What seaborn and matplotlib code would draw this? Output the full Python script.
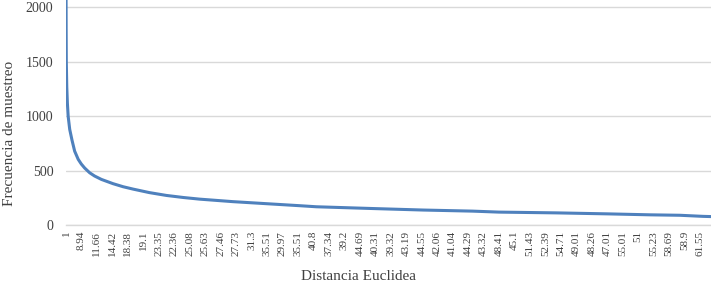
import numpy as np
import pandas as pd
import matplotlib.pyplot as plt
import seaborn as sns

# sample rank (sorted by frequency, highest first) and its sampling frequency
rango = [1, 2, 3, 6, 10, 15, 25, 40, 57, 80, 100, 122, 154, 186, 230, 305,
         370, 435, 540, 650, 760, 865, 1080, 1300, 1510, 1620, 1980, 2310,
         2630, 2800, 3170, 3500, 3780, 3970, 4120, 4171]
frecuencia = [2400, 1800, 1500, 1270, 1120, 1000, 880, 780, 680, 605, 562,
              525, 482, 452, 421, 382, 354, 332, 300, 274, 255, 240, 217, 198,
              180, 170, 154, 140, 130, 121, 114, 105, 96, 92, 82, 80]

# euclidean distance shown on the axis, one label every 100 samples
distancias = ["1", "8.94", "11.66", "14.42", "18.38", "19.1", "23.35", "22.36",
              "25.08", "25.63", "27.46", "27.73", "31.3", "35.51", "29.97",
              "35.51", "40.8", "37.34", "39.2", "44.69", "40.31", "39.32",
              "43.19", "44.55", "42.06", "41.04", "44.29", "43.32", "48.41",
              "45.1", "51.43", "52.39", "54.71", "49.01", "48.26", "47.01",
              "55.01", "51", "55.23", "58.69", "58.9", "61.55"]
paso_etiqueta = 100

df = pd.DataFrame({"rango": rango, "frecuencia": frecuencia})

sns.set_style("white")
plt.rcParams['font.family'] = ['Liberation Serif', 'DejaVu Serif']

fig = plt.figure(figsize=(7.11, 2.91), dpi=100)
ax = fig.add_axes([66 / 711, 1 - 225.3 / 291, 1 - 66 / 711, 225.3 / 291])

sns.lineplot(data=df, x="rango", y="frecuencia", ax=ax, color="#4f81bd",
             linewidth=2.2)

texto = "#404040"
ticks = [1 + i * paso_etiqueta for i in range(len(distancias))]
ax.set_xticks(ticks)
ax.set_xticklabels(distancias, rotation=90, fontsize=8, color=texto)
ax.set_xlim(1, rango[-1])
ax.set_ylim(0, 2067)
ax.set_yticks([0, 500, 1000, 1500, 2000])
ax.set_yticklabels(["0", "500", "1000", "1500", "2000"], fontsize=10, color=texto)
ax.tick_params(axis="x", length=0, pad=4)
ax.tick_params(axis="y", length=0, pad=9)

ax.grid(axis="y", color="#d9d9d9", linewidth=1)
ax.grid(axis="x", visible=False)
for s in ["top", "right", "left"]:
    ax.spines[s].set_visible(False)
ax.spines["bottom"].set_color("#d9d9d9")
ax.spines["bottom"].set_linewidth(1)

ax.set_xlabel("Distancia Euclidea", fontsize=11, color=texto, labelpad=10)
ax.set_ylabel("Frecuencia de muestreo", fontsize=11, color=texto, labelpad=7)
ax.xaxis.label.set_x(0.453)
ax.yaxis.label.set_y(0.407)

fig.savefig("out.png", dpi=100)
